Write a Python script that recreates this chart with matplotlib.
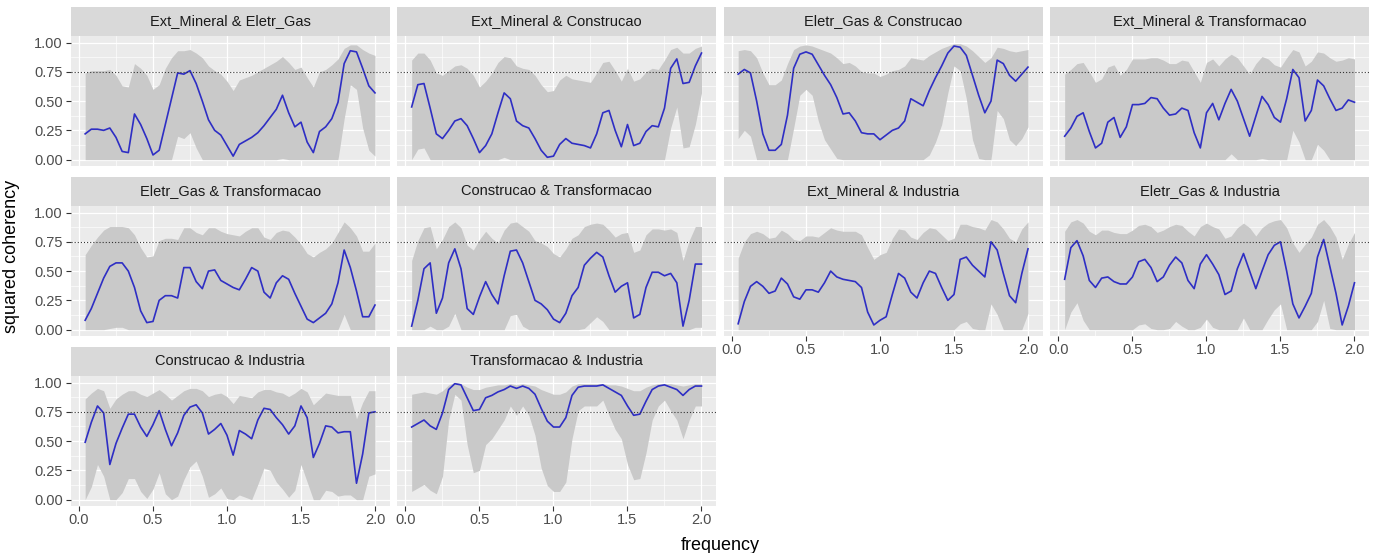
import numpy as np
import matplotlib
matplotlib.use("Agg")
import matplotlib.pyplot as plt

plt.rcParams['font.family'] = ['Liberation Sans', 'DejaVu Sans']

# frequencies (48 Fourier frequencies up to 2.0)
freq = np.arange(1, 49) / 24

# Ext_Mineral & Eletr_Gas
coh_em_eg = [0.22, 0.26, 0.26, 0.25, 0.27, 0.19, 0.07, 0.06, 0.39, 0.30, 0.18, 0.04,
             0.08, 0.30, 0.52, 0.74, 0.73, 0.76, 0.65, 0.50, 0.34, 0.25, 0.21, 0.12,
             0.03, 0.13, 0.16, 0.19, 0.23, 0.29, 0.36, 0.43, 0.55, 0.40, 0.28, 0.32,
             0.15, 0.06, 0.24, 0.28, 0.35, 0.49, 0.82, 0.93, 0.92, 0.78, 0.63, 0.57]
upr_em_eg = [0.74, 0.76, 0.76, 0.76, 0.77, 0.72, 0.63, 0.62, 0.82, 0.78, 0.72, 0.60,
             0.64, 0.78, 0.87, 0.93, 0.93, 0.94, 0.91, 0.87, 0.80, 0.76, 0.73, 0.67,
             0.59, 0.68, 0.70, 0.72, 0.75, 0.78, 0.81, 0.84, 0.88, 0.83, 0.77, 0.79,
             0.70, 0.62, 0.75, 0.77, 0.81, 0.86, 0.95, 0.98, 0.98, 0.94, 0.91, 0.89]
lwr_em_eg = [0, 0, 0, 0, 0, 0, 0, 0, 0, 0, 0, 0,
             0, 0, 0, 0.20, 0.18, 0.23, 0.10, 0, 0, 0, 0, 0,
             0, 0, 0, 0, 0, 0, 0, 0, 0.01, 0, 0, 0,
             0, 0, 0, 0, 0, 0, 0.35, 0.64, 0.60, 0.27, 0.08, 0.03]

# Ext_Mineral & Construcao
coh_em_co = [0.45, 0.64, 0.65, 0.44, 0.22, 0.18, 0.25, 0.33, 0.35, 0.29, 0.18, 0.06,
             0.12, 0.22, 0.40, 0.57, 0.52, 0.33, 0.29, 0.27, 0.18, 0.08, 0.02, 0.03,
             0.13, 0.18, 0.14, 0.13, 0.12, 0.10, 0.22, 0.40, 0.42, 0.25, 0.11, 0.30,
             0.12, 0.14, 0.24, 0.29, 0.28, 0.44, 0.78, 0.86, 0.65, 0.66, 0.80, 0.91]
upr_em_co = [0.85, 0.91, 0.91, 0.85, 0.74, 0.72, 0.76, 0.80, 0.81, 0.78, 0.72, 0.62,
             0.67, 0.74, 0.83, 0.88, 0.87, 0.80, 0.78, 0.77, 0.72, 0.64, 0.58, 0.59,
             0.68, 0.72, 0.69, 0.68, 0.67, 0.66, 0.74, 0.83, 0.84, 0.76, 0.67, 0.78,
             0.67, 0.69, 0.75, 0.78, 0.77, 0.85, 0.94, 0.96, 0.91, 0.91, 0.95, 0.97]
lwr_em_co = [0, 0.09, 0.10, 0, 0, 0, 0, 0, 0, 0, 0, 0,
             0, 0, 0, 0.02, 0, 0, 0, 0, 0, 0, 0, 0,
             0, 0, 0, 0, 0, 0, 0, 0, 0, 0, 0, 0,
             0, 0, 0, 0, 0, 0, 0.27, 0.45, 0.10, 0.11, 0.30, 0.57]

# Eletr_Gas & Construcao
coh_eg_co = [0.73, 0.77, 0.74, 0.50, 0.22, 0.08, 0.08, 0.13, 0.38, 0.78, 0.90, 0.92,
             0.90, 0.81, 0.72, 0.64, 0.53, 0.39, 0.40, 0.33, 0.23, 0.22, 0.22, 0.17,
             0.21, 0.25, 0.27, 0.33, 0.52, 0.49, 0.46, 0.59, 0.70, 0.80, 0.91, 0.97,
             0.96, 0.89, 0.72, 0.55, 0.40, 0.50, 0.85, 0.82, 0.72, 0.67, 0.73, 0.79]
upr_eg_co = [0.93, 0.94, 0.93, 0.87, 0.74, 0.64, 0.64, 0.68, 0.82, 0.94, 0.97, 0.98,
             0.97, 0.95, 0.93, 0.91, 0.87, 0.82, 0.83, 0.80, 0.75, 0.74, 0.74, 0.71,
             0.73, 0.76, 0.77, 0.80, 0.87, 0.86, 0.85, 0.89, 0.92, 0.95, 0.97, 0.99,
             0.99, 0.97, 0.93, 0.88, 0.83, 0.87, 0.96, 0.95, 0.93, 0.92, 0.93, 0.94]
lwr_eg_co = [0.18, 0.25, 0.20, 0, 0, 0, 0, 0, 0, 0.27, 0.55, 0.60,
             0.55, 0.33, 0.17, 0.09, 0.01, 0, 0, 0, 0, 0, 0, 0,
             0, 0, 0, 0, 0, 0, 0, 0.04, 0.15, 0.30, 0.57, 0.80,
             0.76, 0.52, 0.17, 0.01, 0, 0, 0.42, 0.35, 0.17, 0.12, 0.18, 0.28]

# Ext_Mineral & Transformacao
coh_em_tr = [0.20, 0.27, 0.37, 0.40, 0.24, 0.10, 0.14, 0.32, 0.36, 0.19, 0.28, 0.47,
             0.47, 0.48, 0.53, 0.52, 0.44, 0.38, 0.39, 0.44, 0.42, 0.23, 0.10, 0.40,
             0.48, 0.34, 0.48, 0.60, 0.50, 0.35, 0.20, 0.37, 0.54, 0.47, 0.36, 0.32,
             0.52, 0.77, 0.70, 0.33, 0.42, 0.68, 0.63, 0.52, 0.42, 0.44, 0.51, 0.49]
upr_em_tr = [0.73, 0.77, 0.82, 0.83, 0.75, 0.66, 0.69, 0.79, 0.81, 0.72, 0.77, 0.86,
             0.86, 0.86, 0.87, 0.87, 0.85, 0.82, 0.82, 0.85, 0.84, 0.75, 0.66, 0.83,
             0.86, 0.80, 0.86, 0.90, 0.87, 0.80, 0.73, 0.82, 0.88, 0.86, 0.81, 0.79,
             0.87, 0.94, 0.92, 0.80, 0.84, 0.92, 0.91, 0.87, 0.84, 0.85, 0.87, 0.86]
lwr_em_tr = [0, 0, 0, 0, 0, 0, 0, 0, 0, 0, 0, 0,
             0, 0, 0, 0, 0, 0, 0, 0, 0, 0, 0, 0,
             0, 0, 0, 0.05, 0, 0, 0, 0, 0.01, 0, 0, 0,
             0, 0.25, 0.15, 0, 0, 0.13, 0.08, 0, 0, 0, 0, 0]

# Eletr_Gas & Transformacao
coh_eg_tr = [0.08, 0.18, 0.31, 0.44, 0.54, 0.57, 0.57, 0.50, 0.36, 0.16, 0.06, 0.07,
             0.25, 0.29, 0.29, 0.27, 0.53, 0.53, 0.41, 0.35, 0.50, 0.51, 0.42, 0.39,
             0.36, 0.34, 0.43, 0.53, 0.50, 0.32, 0.27, 0.40, 0.46, 0.43, 0.31, 0.20,
             0.09, 0.06, 0.10, 0.14, 0.22, 0.40, 0.68, 0.53, 0.33, 0.11, 0.11, 0.21]
upr_eg_tr = [0.64, 0.72, 0.79, 0.85, 0.88, 0.88, 0.88, 0.87, 0.81, 0.70, 0.62, 0.63,
             0.76, 0.78, 0.78, 0.77, 0.87, 0.87, 0.83, 0.81, 0.87, 0.87, 0.84, 0.82,
             0.81, 0.80, 0.84, 0.87, 0.87, 0.79, 0.77, 0.83, 0.85, 0.84, 0.79, 0.73,
             0.65, 0.62, 0.66, 0.69, 0.74, 0.83, 0.92, 0.87, 0.80, 0.67, 0.67, 0.74]
lwr_eg_tr = [0, 0, 0, 0, 0.01, 0.02, 0.02, 0, 0, 0, 0, 0,
             0, 0, 0, 0, 0, 0, 0, 0, 0, 0, 0, 0,
             0, 0, 0, 0, 0, 0, 0, 0, 0, 0, 0, 0,
             0, 0, 0, 0, 0, 0, 0.13, 0, 0, 0, 0, 0]

# Construcao & Transformacao
coh_co_tr = [0.03, 0.25, 0.52, 0.57, 0.14, 0.27, 0.57, 0.69, 0.52, 0.18, 0.13, 0.28,
             0.41, 0.30, 0.22, 0.46, 0.67, 0.68, 0.57, 0.41, 0.25, 0.22, 0.17, 0.09,
             0.06, 0.14, 0.29, 0.36, 0.55, 0.61, 0.66, 0.62, 0.46, 0.32, 0.37, 0.40,
             0.10, 0.13, 0.36, 0.49, 0.49, 0.46, 0.48, 0.40, 0.03, 0.25, 0.56, 0.56]
upr_co_tr = [0.59, 0.76, 0.87, 0.88, 0.69, 0.77, 0.88, 0.92, 0.87, 0.72, 0.68, 0.77,
             0.84, 0.78, 0.74, 0.85, 0.91, 0.92, 0.88, 0.84, 0.76, 0.74, 0.71, 0.65,
             0.62, 0.69, 0.78, 0.81, 0.88, 0.90, 0.91, 0.90, 0.85, 0.79, 0.82, 0.83,
             0.66, 0.68, 0.81, 0.86, 0.86, 0.85, 0.86, 0.83, 0.59, 0.76, 0.88, 0.88]
lwr_co_tr = [0, 0, 0, 0.03, 0, 0, 0.03, 0.14, 0, 0, 0, 0,
             0, 0, 0, 0, 0.12, 0.13, 0.03, 0, 0, 0, 0, 0,
             0, 0, 0, 0, 0.01, 0.06, 0.11, 0.07, 0, 0, 0, 0,
             0, 0, 0, 0, 0, 0, 0, 0, 0, 0, 0.02, 0.02]

# Ext_Mineral & Industria
coh_em_in = [0.05, 0.24, 0.37, 0.41, 0.37, 0.31, 0.33, 0.44, 0.39, 0.28, 0.26, 0.34,
             0.34, 0.32, 0.40, 0.50, 0.45, 0.43, 0.42, 0.41, 0.36, 0.15, 0.04, 0.08,
             0.11, 0.30, 0.48, 0.44, 0.32, 0.27, 0.40, 0.50, 0.48, 0.36, 0.25, 0.30,
             0.60, 0.62, 0.55, 0.50, 0.45, 0.75, 0.68, 0.48, 0.29, 0.23, 0.48, 0.69]
upr_em_in = [0.61, 0.75, 0.82, 0.84, 0.82, 0.78, 0.79, 0.85, 0.82, 0.77, 0.76, 0.80,
             0.80, 0.79, 0.83, 0.87, 0.85, 0.84, 0.84, 0.84, 0.81, 0.70, 0.60, 0.64,
             0.66, 0.78, 0.86, 0.85, 0.79, 0.77, 0.83, 0.87, 0.86, 0.81, 0.76, 0.78,
             0.90, 0.90, 0.88, 0.87, 0.85, 0.94, 0.92, 0.86, 0.78, 0.75, 0.86, 0.92]
lwr_em_in = [0, 0, 0, 0, 0, 0, 0, 0, 0, 0, 0, 0,
             0, 0, 0, 0, 0, 0, 0, 0, 0, 0, 0, 0,
             0, 0, 0, 0, 0, 0, 0, 0, 0, 0, 0, 0,
             0.05, 0.07, 0.01, 0, 0, 0.22, 0.13, 0, 0, 0, 0, 0.14]

# Eletr_Gas & Industria
coh_eg_in = [0.43, 0.70, 0.76, 0.63, 0.42, 0.36, 0.44, 0.45, 0.41, 0.39, 0.39, 0.45,
             0.58, 0.60, 0.53, 0.41, 0.45, 0.55, 0.62, 0.57, 0.42, 0.35, 0.56, 0.64,
             0.56, 0.47, 0.30, 0.33, 0.52, 0.65, 0.50, 0.35, 0.50, 0.64, 0.72, 0.75,
             0.50, 0.22, 0.10, 0.20, 0.31, 0.62, 0.77, 0.54, 0.31, 0.04, 0.20, 0.40]
upr_eg_in = [0.84, 0.92, 0.94, 0.91, 0.84, 0.81, 0.85, 0.85, 0.83, 0.82, 0.82, 0.85,
             0.89, 0.90, 0.88, 0.83, 0.85, 0.88, 0.90, 0.89, 0.84, 0.80, 0.88, 0.91,
             0.88, 0.86, 0.78, 0.80, 0.87, 0.91, 0.87, 0.80, 0.87, 0.91, 0.93, 0.94,
             0.87, 0.74, 0.66, 0.73, 0.79, 0.90, 0.94, 0.88, 0.79, 0.60, 0.73, 0.83]
lwr_eg_in = [0, 0.15, 0.23, 0.08, 0, 0, 0, 0, 0, 0, 0, 0,
             0.04, 0.05, 0.01, 0, 0, 0.01, 0.07, 0.03, 0, 0, 0.02, 0.09,
             0.02, 0, 0, 0, 0, 0.10, 0, 0, 0, 0.09, 0.17, 0.22,
             0, 0, 0, 0, 0, 0.07, 0.25, 0.01, 0, 0, 0, 0]

# Construcao & Industria
coh_co_in = [0.49, 0.66, 0.80, 0.74, 0.30, 0.48, 0.61, 0.73, 0.73, 0.62, 0.54, 0.64,
             0.76, 0.60, 0.46, 0.57, 0.72, 0.79, 0.81, 0.74, 0.56, 0.60, 0.65, 0.55,
             0.38, 0.59, 0.56, 0.52, 0.68, 0.78, 0.77, 0.70, 0.64, 0.56, 0.63, 0.80,
             0.70, 0.36, 0.48, 0.63, 0.62, 0.57, 0.58, 0.58, 0.14, 0.39, 0.74, 0.75]
upr_co_in = [0.86, 0.91, 0.95, 0.93, 0.78, 0.86, 0.90, 0.93, 0.93, 0.90, 0.88, 0.91,
             0.94, 0.90, 0.85, 0.89, 0.93, 0.95, 0.95, 0.93, 0.88, 0.90, 0.91, 0.88,
             0.82, 0.89, 0.88, 0.87, 0.92, 0.94, 0.94, 0.92, 0.91, 0.88, 0.91, 0.95,
             0.92, 0.81, 0.86, 0.91, 0.90, 0.89, 0.89, 0.89, 0.69, 0.83, 0.93, 0.93]
lwr_co_in = [0, 0.11, 0.30, 0.20, 0, 0, 0.06, 0.18, 0.18, 0.07, 0.01, 0.09,
             0.23, 0.05, 0, 0.03, 0.17, 0.28, 0.33, 0.20, 0.02, 0.05, 0.10, 0.01,
             0, 0.04, 0.02, 0, 0.13, 0.27, 0.25, 0.15, 0.09, 0.02, 0.08, 0.30,
             0.15, 0, 0, 0.08, 0.07, 0.03, 0.04, 0.04, 0, 0, 0.20, 0.22]

# Transformacao & Industria
coh_tr_in = [0.62, 0.65, 0.68, 0.63, 0.60, 0.74, 0.94, 0.99, 0.98, 0.87, 0.76, 0.77,
             0.87, 0.89, 0.92, 0.94, 0.97, 0.95, 0.97, 0.95, 0.90, 0.78, 0.67, 0.62,
             0.62, 0.70, 0.89, 0.96, 0.97, 0.97, 0.97, 0.98, 0.95, 0.92, 0.89, 0.80,
             0.72, 0.73, 0.84, 0.94, 0.97, 0.98, 0.96, 0.94, 0.89, 0.94, 0.97, 0.97]
upr_tr_in = [0.90, 0.91, 0.92, 0.91, 0.90, 0.93, 0.98, 1.00, 0.99, 0.96, 0.94, 0.94,
             0.96, 0.97, 0.98, 0.98, 0.99, 0.98, 0.99, 0.98, 0.97, 0.94, 0.92, 0.90,
             0.90, 0.92, 0.97, 0.99, 0.99, 0.99, 0.99, 0.99, 0.98, 0.98, 0.97, 0.95,
             0.93, 0.93, 0.96, 0.98, 0.99, 0.99, 0.99, 0.98, 0.97, 0.98, 0.99, 0.99]
lwr_tr_in = [0.07, 0.10, 0.13, 0.08, 0.05, 0.20, 0.68, 0.90, 0.85, 0.47, 0.23, 0.25,
             0.47, 0.52, 0.60, 0.68, 0.80, 0.72, 0.80, 0.72, 0.55, 0.27, 0.12, 0.07,
             0.07, 0.15, 0.52, 0.76, 0.80, 0.80, 0.80, 0.85, 0.72, 0.60, 0.52, 0.30,
             0.17, 0.18, 0.40, 0.68, 0.80, 0.85, 0.76, 0.68, 0.52, 0.68, 0.80, 0.80]

panels = [
    ("Ext_Mineral & Eletr_Gas", coh_em_eg, lwr_em_eg, upr_em_eg),
    ("Ext_Mineral & Construcao", coh_em_co, lwr_em_co, upr_em_co),
    ("Eletr_Gas & Construcao", coh_eg_co, lwr_eg_co, upr_eg_co),
    ("Ext_Mineral & Transformacao", coh_em_tr, lwr_em_tr, upr_em_tr),
    ("Eletr_Gas & Transformacao", coh_eg_tr, lwr_eg_tr, upr_eg_tr),
    ("Construcao & Transformacao", coh_co_tr, lwr_co_tr, upr_co_tr),
    ("Ext_Mineral & Industria", coh_em_in, lwr_em_in, upr_em_in),
    ("Eletr_Gas & Industria", coh_eg_in, lwr_eg_in, upr_eg_in),
    ("Construcao & Industria", coh_co_in, lwr_co_in, upr_co_in),
    ("Transformacao & Industria", coh_tr_in, lwr_tr_in, upr_tr_in),
]

threshold = 0.75
x_ticks = [0.0, 0.5, 1.0, 1.5, 2.0]
y_ticks = [0.0, 0.25, 0.5, 0.75, 1.0]

W, H = 1381, 553
fig = plt.figure(figsize=(W / 100, H / 100), dpi=100)

col_left = [70.7, 397.2, 723.7, 1050.2]
row_top = [35.5, 205.5, 375.5]
pw, ph, sh = 318.8, 130, 29


def box(x, y, w, h):
    return [x / W, 1 - (y + h) / H, w / W, h / H]


for i, (name, coh, lwr, upr) in enumerate(panels):
    r, c = divmod(i, 4)
    ax = fig.add_axes(box(col_left[c], row_top[r], pw, ph))
    ax.set_facecolor("#EBEBEB")
    ax.fill_between(freq, lwr, upr, color="#C9C9C9", lw=0, zorder=2)
    ax.plot(freq, coh, color="#2E2EC4", lw=1.2, zorder=3)
    ax.axhline(threshold, color="#333333", ls=(0, (1, 1.8)), lw=0.8, zorder=4)
    ax.set_xlim(-0.056, 2.098)
    ax.set_ylim(-0.05, 1.06)
    ax.set_xticks(x_ticks)
    ax.set_xticks([0.25, 0.75, 1.25, 1.75], minor=True)
    ax.set_yticks(y_ticks)
    ax.set_yticks([0.125, 0.375, 0.625, 0.875], minor=True)
    ax.grid(which="major", color="white", lw=0.9)
    ax.grid(which="minor", color="white", lw=0.45)
    ax.set_axisbelow(True)
    for s in ax.spines.values():
        s.set_visible(False)
    ax.tick_params(which="minor", length=0)
    show_x = (r == 2) or (r == 1 and c >= 2)
    show_y = (c == 0)
    ax.tick_params(axis="x", which="major", length=3.7 if show_x else 0,
                   color="#333333", labelbottom=show_x, labelsize=10.5,
                   labelcolor="#4D4D4D", pad=2)
    ax.tick_params(axis="y", which="major", length=3.7 if show_y else 0,
                   color="#333333", labelleft=show_y, labelsize=10.5,
                   labelcolor="#4D4D4D", pad=2)
    if show_y:
        ax.set_yticklabels(["0.00", "0.25", "0.50", "0.75", "1.00"])
    if show_x:
        ax.set_xticklabels(["0.0", "0.5", "1.0", "1.5", "2.0"])

    sax = fig.add_axes(box(col_left[c], row_top[r] - sh, pw, sh))
    sax.set_facecolor("#D9D9D9")
    sax.set_xticks([])
    sax.set_yticks([])
    for s in sax.spines.values():
        s.set_visible(False)
    sax.text(0.5, 0.5, name, ha="center", va="center", fontsize=10.5,
             color="#1A1A1A", transform=sax.transAxes)

fig.text(12 / W, 1 - 256 / H, "squared coherency", rotation=90,
         ha="center", va="center", fontsize=13)
fig.text(720 / W, 1 - 545 / H, "frequency", ha="center", va="center",
         fontsize=13)

fig.savefig("out.png", dpi=100)
